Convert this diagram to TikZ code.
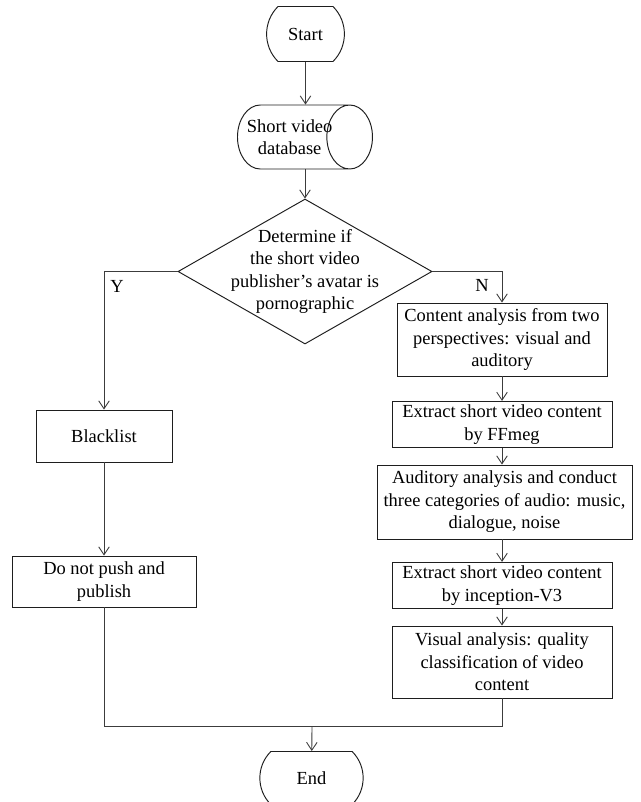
\documentclass[tikz,border=0pt]{standalone}
\usepackage{fontspec}
\setmainfont{Liberation Serif}
\usepackage{xcolor}
\definecolor{fcline}{RGB}{60,60,60}
\definecolor{fcedge}{RGB}{30,30,30}
\usepackage{tikz}
\usetikzlibrary{arrows.meta,positioning,shapes.geometric,shapes.misc,calc}

\begin{document}
\begin{tikzpicture}[
  every node/.style={font=\fontsize{10.5}{12.8}\selectfont},
  term/.style={rounded rectangle, rounded rectangle arc length=90, draw=fcedge,
               line width=0.55pt, minimum width=1.7cm, minimum height=1.1cm},
  dbase/.style={cylinder, draw=fcedge, line width=0.55pt, shape aspect=1.17,
                minimum width=1.28cm, minimum height=2.7cm, align=center,
                inner xsep=-4pt, inner ysep=1pt},
  decide/.style={diamond, draw=fcedge, line width=0.55pt, inner sep=0pt,
                 minimum width=5.08cm, minimum height=2.9cm},
  proc/.style={rectangle, draw=fcedge, line width=0.55pt, align=center, inner sep=2pt},
  yn/.style={inner sep=0pt},
  conn/.style={-{Straight Barb[length=4.5pt,width=6pt]}, line width=0.5pt, draw=fcline},
  plain/.style={line width=0.5pt, draw=fcline}
]
\useasboundingbox (0,0) rectangle (12.82,-16.04);

% main column
\node[term] (start) at (6.11,-0.68) {Start};
\node[dbase, anchor=west] (db) at (4.74,-2.74) {Short video\\database};
\node[decide, label={[align=center]center:Determine if\\the short video\\publisher’s avatar is\\pornographic}]
  (dec) at (6.10,-5.43) {};

% Y branch
\node[proc, minimum width=2.72cm, minimum height=1.04cm] (black) at (2.08,-8.72) {Blacklist};
\node[proc, minimum width=3.68cm, minimum height=1.02cm] (nopush) at (2.08,-11.63) {Do not push and\\publish};

% N branch
\node[proc, minimum width=4.2cm, minimum height=1.46cm] (cont) at (10.04,-6.79)
  {Content analysis from two\\perspectives: visual and\\auditory};
\node[proc, minimum width=4.4cm, minimum height=0.86cm] (ffm) at (10.04,-8.49)
  {Extract short video content\\by FFmeg};
\node[proc, minimum width=5.1cm, minimum height=1.48cm] (audio) at (10.09,-10.04)
  {Auditory analysis and conduct\\three categories of audio: music,\\dialogue, noise};
\node[proc, minimum width=4.4cm, minimum height=0.82cm] (incep) at (10.04,-11.71)
  {Extract short video content\\by inception-V3};
\node[proc, minimum width=4.4cm, minimum height=1.44cm] (visual) at (10.04,-13.24)
  {Visual analysis: quality\\classification of video\\content};

\node[term, minimum width=2.3cm, minimum height=1.06cm] (end) at (6.23,-15.56) {End};
\coordinate (join) at (6.24,-14.52);

\node[yn] (ylbl) at (2.34,-5.72) {Y};
\node[yn] (nlbl) at (9.64,-5.70) {N};

\draw[conn] (start.south) -- (start.south |- db.north);
\draw[conn] (dec.north |- db.south) -- (dec.north);
\draw[conn] (dec.west) -| (black.north);
\draw[conn] (dec.east) -| (cont.north);
\draw[conn] (black) -- (nopush);
\draw[conn] (cont) -- (ffm);
\draw[conn] (ffm) -- (audio.north -| ffm.south);
\draw[conn] (audio.south -| incep.north) -- (incep);
\draw[conn] (incep) -- (visual);
\draw[plain] (nopush.south) |- (join) -| (visual.south);
\draw[conn] (join) -- (end);
\end{tikzpicture}
\end{document}
